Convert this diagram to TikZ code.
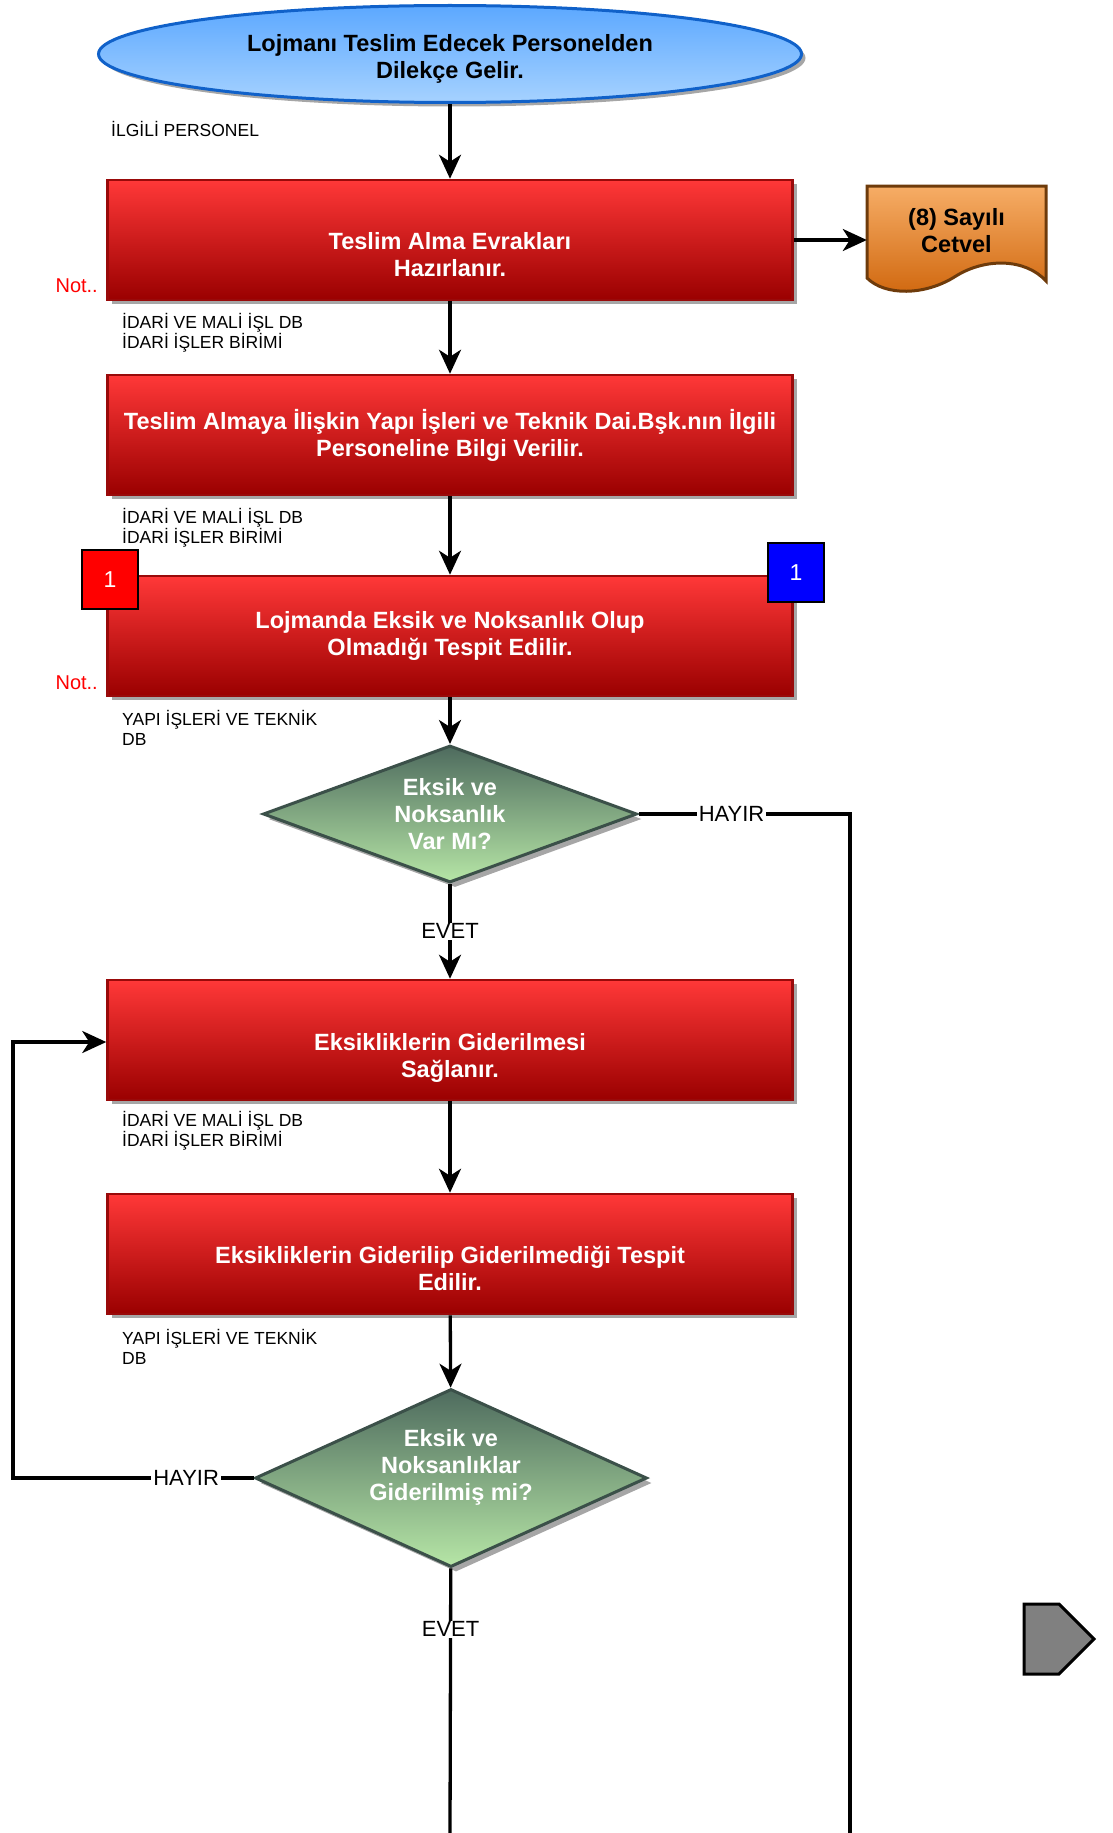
\documentclass[tikz,border=0pt]{standalone}
\usepackage{fontspec}
\setmainfont{Liberation Sans}
\usetikzlibrary{shapes.geometric,arrows.meta,shadows}
\definecolor{boxtop}{HTML}{FF3838}
\definecolor{boxbottom}{HTML}{9A0000}
\definecolor{boxedge}{HTML}{990A0A}
\definecolor{asktop}{HTML}{4E6B5E}
\definecolor{askbottom}{HTML}{B6E6A6}
\definecolor{askedge}{HTML}{3B5049}
\definecolor{starttop}{HTML}{5CA8FF}
\definecolor{startbottom}{HTML}{A6D2FF}
\definecolor{startedge}{HTML}{1061C9}
\definecolor{doctop}{HTML}{F6AD66}
\definecolor{docbottom}{HTML}{D0670E}
\definecolor{docedge}{HTML}{6E3B0B}
\definecolor{shadowgray}{HTML}{A6A6A6}
\begin{document}
\begin{tikzpicture}[x=1pt,y=-1pt,
    startnode/.style={ellipse,draw=startedge,line width=3pt,top color=starttop,bottom color=startbottom,
      minimum width=703pt,minimum height=97pt,inner sep=0pt,align=center,
      font=\bfseries\fontsize{23.5}{27}\selectfont,
      drop shadow={shadow xshift=4pt,shadow yshift=-4pt,fill=shadowgray,opacity=1}},
    redbox/.style={rectangle,draw=boxedge,line width=2.5pt,top color=boxtop,bottom color=boxbottom,
      minimum width=685pt,minimum height=120pt,inner sep=0pt,text=white,align=center,
      font=\bfseries\fontsize{23.5}{27}\selectfont,
      drop shadow={shadow xshift=4pt,shadow yshift=-4pt,fill=shadowgray,opacity=1}},
    question/.style={diamond,draw=askedge,line width=3pt,top color=asktop,bottom color=askbottom,
      inner sep=0pt,aspect=2.2,text=white,align=center,
      font=\bfseries\fontsize{23.5}{27}\selectfont,
      drop shadow={shadow xshift=5pt,shadow yshift=-5pt,fill=shadowgray,opacity=1}},
    note/.style={anchor=west,align=left,inner sep=0pt,font=\fontsize{17.5}{20}\selectfont},
    notlabel/.style={anchor=east,inner sep=0pt,text=red,font=\fontsize{20}{24}\selectfont},
    marker/.style={rectangle,draw=black,line width=2pt,minimum width=56pt,minimum height=59pt,
      text=white,font=\fontsize{23}{26}\selectfont},
    link/.style={line width=3.3pt},
    flow/.style={link,-{Stealth[length=24pt,width=22pt,inset=7pt]}},
    answer/.style={fill=white,inner xsep=2pt,inner ysep=1pt,font=\fontsize{22}{26}\selectfont}]
\useasboundingbox (0,0) rectangle (1112,1833);

% start
\node[startnode] (start) at (450,54) {\rule{0pt}{27pt}Lojmanı Teslim Edecek Personelden\\Dilekçe Gelir.};
\node[note] at (111,129) {İLGİLİ PERSONEL};

% steps
\node[redbox] (b1) at (450,240) {\rule{0pt}{47pt}Teslim Alma Evrakları\\Hazırlanır.};
\node[notlabel] at (98,286) {Not..};
\node[note] at (122,333) {İDARİ VE MALİ İŞL DB\\İDARİ İŞLER BİRİMİ};

\draw[line width=3pt,draw=docedge,top color=doctop,bottom color=docbottom]
  (867,186) -- (1046,186) -- (1046,281)
  .. controls (1025,258) and (985,258) .. (956,276)
  .. controls (925,296) and (885,296) .. (867,278) -- cycle;
\node[align=center,font=\bfseries\fontsize{23.5}{27}\selectfont,minimum width=179pt,inner sep=0pt] (doc) at (956.5,231) {(8) Sayılı\\Cetvel};

\node[redbox] (b2) at (450,435) {Teslim Almaya İlişkin Yapı İşleri ve Teknik Dai.Bşk.nın İlgili\\Personeline Bilgi Verilir.};
\node[note] at (122,528) {İDARİ VE MALİ İŞL DB\\İDARİ İŞLER BİRİMİ};

\node[redbox] (b3) at (450,636) {Lojmanda Eksik ve Noksanlık Olup\\Olmadığı Tespit Edilir.};
\node[marker,fill=red] (m1) at (110,579.5) {1};
\node[marker,fill=blue] (m2) at (796,572.5) {1};
\node[notlabel] at (98,683) {Not..};
\node[note] at (122,728) {YAPI İŞLERİ VE TEKNİK\\DB};

\node[question,minimum width=374pt,minimum height=137pt] (d1) at (450,814) {Eksik ve\\Noksanlık\\Var Mı?};

\node[redbox] (b4) at (450,1040) {\rule{0pt}{52pt}Eksikliklerin Giderilmesi\\Sağlanır.};
\node[note] at (122,1131) {İDARİ VE MALİ İŞL DB\\İDARİ İŞLER BİRİMİ};

\node[redbox] (b5) at (450,1254) {\rule{0pt}{47pt}Eksikliklerin Giderilip Giderilmediği Tespit\\Edilir.};
\node[note] at (122,1347) {YAPI İŞLERİ VE TEKNİK\\DB};

\node[question,minimum width=392pt,minimum height=178pt] (d2) at (451,1478) {Eksik ve\\Noksanlıklar\\Giderilmiş mi?\\\mbox{}};

% off-page connector
\draw[line width=3pt,fill=gray] (1024,1604) -- (1059,1604) -- (1094,1639) -- (1059,1674) -- (1024,1674) -- cycle;

\coordinate (endL) at (450,1833);
\coordinate (endR) at (850,1833);
\coordinate (loopL) at (13,1042);

% connectors
\draw[flow] (start) -- (b1);
\draw[flow] (b1.east) -- (b1.east -| doc.west);
\draw[flow] (b1) -- (b2);
\draw[flow] (b2) -- (b3);
\draw[flow] (b3) -- (d1);
\draw[flow] (d1) -- node[answer]{EVET} (b4);
\draw[link] (d1.east) -- node[answer,pos=0.44]{HAYIR} (d1.east -| endR) -- (endR);
\draw[flow] (b4) -- (b5);
\draw[flow] (b5) -- (d2);
\draw[flow] (d2.west) -- node[answer,pos=0.28]{HAYIR} (d2.west -| loopL) -- (loopL) -- (b4.west |- loopL);
\draw[link] (d2) -- node[answer,pos=0.23]{EVET} (endL);
\end{tikzpicture}
\end{document}
